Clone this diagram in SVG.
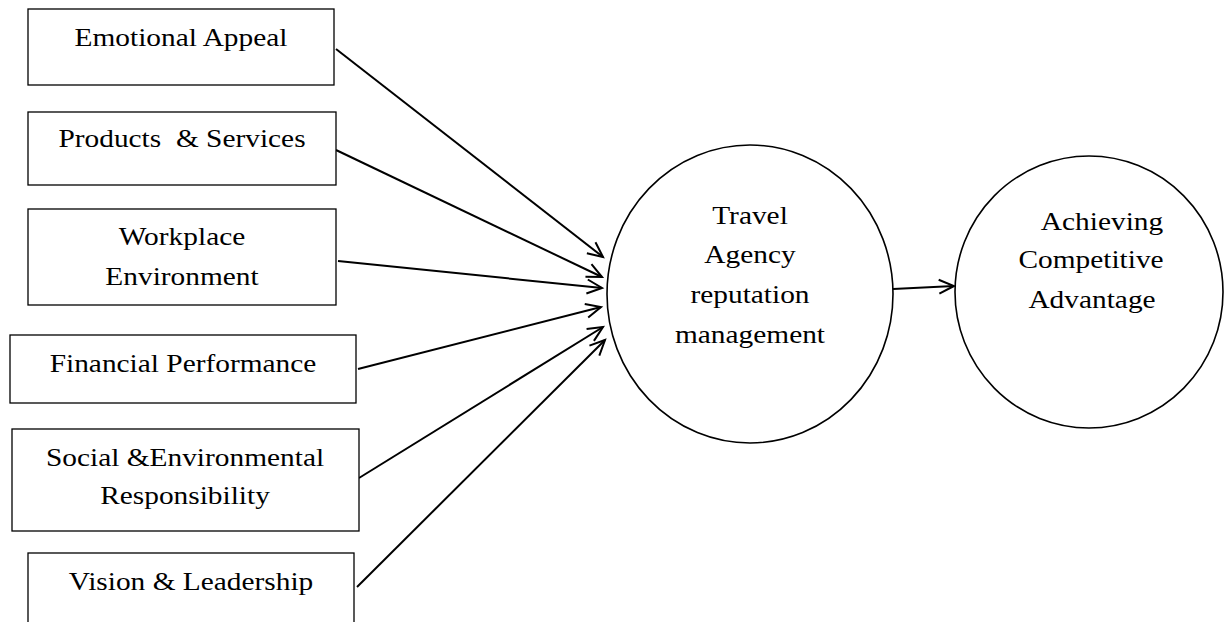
<svg xmlns="http://www.w3.org/2000/svg" width="1225" height="622" viewBox="0 0 1225 622">
<style>
.box{fill:#fff;stroke:#000;stroke-width:1.3}
.ell{fill:#fff;stroke:#000;stroke-width:1.6}
.t{font-family:"Liberation Serif","Times New Roman",serif;font-size:26px;fill:#000;text-anchor:middle}
.c{fill:none;stroke:#000;stroke-width:2}
</style>
<defs>
<marker id="ah" markerUnits="userSpaceOnUse" markerWidth="20" markerHeight="20" viewBox="0 0 20 20" refX="17" refY="10" orient="auto">
<path d="M2,3 L17,10 L2,17" fill="none" stroke="#000" stroke-width="2"/>
</marker>
</defs>
<rect width="1225" height="622" fill="#fff"/>
<g id="connectors">
<line class="c" x1="336" y1="49" x2="603" y2="257" marker-end="url(#ah)"/>
<line class="c" x1="336" y1="150" x2="602" y2="277" marker-end="url(#ah)"/>
<line class="c" x1="338" y1="261" x2="602" y2="288" marker-end="url(#ah)"/>
<line class="c" x1="358" y1="369" x2="601" y2="307" marker-end="url(#ah)"/>
<line class="c" x1="359" y1="478" x2="603" y2="327" marker-end="url(#ah)"/>
<line class="c" x1="357" y1="587" x2="605" y2="340" marker-end="url(#ah)"/>
<line class="c" x1="893" y1="289" x2="954" y2="286" marker-end="url(#ah)"/>
</g>
<g id="n1">
<rect class="box" x="28" y="9" width="306" height="76"/>
<text class="t" transform="translate(181,45.5) scale(1.13,1)">Emotional Appeal</text>
</g>
<g id="n2">
<rect class="box" x="28" y="112" width="308" height="73"/>
<text class="t" xml:space="preserve" transform="translate(182,147) scale(1.13,1)">Products  &amp; Services</text>
</g>
<g id="n3">
<rect class="box" x="28" y="209" width="308" height="96"/>
<text class="t" transform="translate(182,245) scale(1.13,1)">Workplace</text>
<text class="t" transform="translate(182,285) scale(1.13,1)">Environment</text>
</g>
<g id="n4">
<rect class="box" x="10" y="335" width="346" height="68"/>
<text class="t" transform="translate(183,372) scale(1.13,1)">Financial Performance</text>
</g>
<g id="n5">
<rect class="box" x="12" y="429" width="347" height="102"/>
<text class="t" transform="translate(185,466) scale(1.13,1)">Social &amp;Environmental</text>
<text class="t" transform="translate(185,504) scale(1.13,1)">Responsibility</text>
</g>
<g id="n6">
<rect class="box" x="28" y="553" width="326" height="80"/>
<text class="t" transform="translate(191,590) scale(1.13,1)">Vision &amp; Leadership</text>
</g>
<g id="n7">
<ellipse class="ell" cx="750" cy="294" rx="143" ry="149"/>
<text class="t" transform="translate(750,224) scale(1.13,1)">Travel</text>
<text class="t" transform="translate(750,263) scale(1.13,1)">Agency</text>
<text class="t" transform="translate(750,303) scale(1.13,1)">reputation</text>
<text class="t" transform="translate(750,343) scale(1.13,1)">management</text>
</g>
<g id="n8">
<ellipse class="ell" cx="1089" cy="292" rx="134" ry="136"/>
<text class="t" transform="translate(1102,230) scale(1.13,1)">Achieving</text>
<text class="t" transform="translate(1091,268) scale(1.13,1)">Competitive</text>
<text class="t" transform="translate(1092,308) scale(1.13,1)">Advantage</text>
</g>
</svg>
